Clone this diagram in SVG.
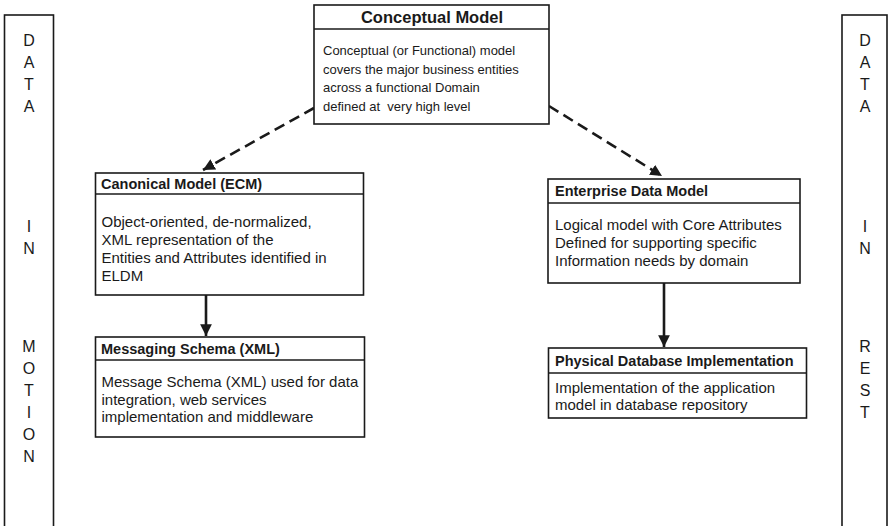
<svg xmlns="http://www.w3.org/2000/svg" width="888" height="526" viewBox="0 0 888 526">
<style>
.box{fill:#fff;stroke:#1a1a1a;stroke-width:1.6}
.sep{stroke:#1a1a1a;stroke-width:1.4}
.hdr{font-family:"Liberation Sans",Arial,sans-serif;font-weight:bold;font-size:14.5px;fill:#1a1a1a}
.ttl{font-family:"Liberation Sans",Arial,sans-serif;font-weight:bold;font-size:16.5px;fill:#1a1a1a}
.body{font-family:"Liberation Sans",Arial,sans-serif;font-size:15px;fill:#1a1a1a}
.small{font-family:"Liberation Sans",Arial,sans-serif;font-size:13px;fill:#1a1a1a}
.vert{font-family:"Liberation Sans",Arial,sans-serif;font-size:16px;fill:#1a1a1a;text-anchor:middle}
.solid{stroke:#1a1a1a;stroke-width:2.6;fill:none}
.dash{stroke:#1a1a1a;stroke-width:2.6;fill:none;stroke-dasharray:11 6}
</style>
<defs>
<marker id="ah" viewBox="0 0 10 10" refX="10" refY="5" markerWidth="4.5" markerHeight="4.5" markerUnits="strokeWidth" orient="auto">
<path d="M0,0 L10,5 L0,10 z" fill="#1a1a1a"/>
</marker>
</defs>
<g id="data-in-motion">
<rect class="box" x="4.5" y="15" width="49" height="512"/>
<text class="vert" x="29" y="46">D</text>
<text class="vert" x="29" y="68">A</text>
<text class="vert" x="29" y="90">T</text>
<text class="vert" x="29" y="112">A</text>
<text class="vert" x="29" y="232">I</text>
<text class="vert" x="29" y="254">N</text>
<text class="vert" x="29" y="352">M</text>
<text class="vert" x="29" y="374">O</text>
<text class="vert" x="29" y="396">T</text>
<text class="vert" x="29" y="418">I</text>
<text class="vert" x="29" y="440">O</text>
<text class="vert" x="29" y="462">N</text>
</g>
<g id="data-in-rest">
<rect class="box" x="842" y="15" width="45" height="512"/>
<text class="vert" x="865" y="46">D</text>
<text class="vert" x="865" y="68">A</text>
<text class="vert" x="865" y="90">T</text>
<text class="vert" x="865" y="112">A</text>
<text class="vert" x="865" y="232">I</text>
<text class="vert" x="865" y="254">N</text>
<text class="vert" x="865" y="352">R</text>
<text class="vert" x="865" y="374">E</text>
<text class="vert" x="865" y="396">S</text>
<text class="vert" x="865" y="418">T</text>
</g>
<g id="connectors">
<line class="dash" x1="314" y1="108" x2="203" y2="170" marker-end="url(#ah)"/>
<line class="dash" x1="549" y1="106" x2="662" y2="176" marker-end="url(#ah)"/>
<line class="solid" x1="206" y1="295" x2="206" y2="336" marker-end="url(#ah)"/>
<line class="solid" x1="664" y1="283" x2="664" y2="347" marker-end="url(#ah)"/>
</g>
<g id="conceptual-model">
<rect class="box" x="314" y="5" width="235" height="119"/>
<line class="sep" x1="314" y1="29" x2="549" y2="29"/>
<text class="ttl" x="432" y="23" text-anchor="middle">Conceptual Model</text>
<text class="small" x="323" y="55">Conceptual (or Functional) model</text>
<text class="small" x="323" y="73.5">covers the major business entities</text>
<text class="small" x="323" y="92">across a functional Domain</text>
<text class="small" x="323" y="110.5">defined at&#160; very high level</text>
</g>
<g id="canonical-model">
<rect class="box" x="95.5" y="173" width="268" height="122"/>
<line class="sep" x1="95.5" y1="194" x2="363.5" y2="194"/>
<text class="hdr" x="101" y="189">Canonical Model (ECM)</text>
<text class="body" x="101.5" y="227">Object-oriented, de-normalized,</text>
<text class="body" x="101.5" y="245">XML representation of the</text>
<text class="body" x="101.5" y="263">Entities and Attributes identified in</text>
<text class="body" x="101.5" y="281">ELDM</text>
</g>
<g id="messaging-schema">
<rect class="box" x="95.5" y="337" width="269" height="100"/>
<line class="sep" x1="95.5" y1="360" x2="364.5" y2="360"/>
<text class="hdr" x="101" y="354">Messaging Schema (XML)</text>
<text class="body" x="101.5" y="387">Message Schema (XML) used for data</text>
<text class="body" x="101.5" y="405">integration, web services</text>
<text class="body" x="101.5" y="422">implementation and middleware</text>
</g>
<g id="enterprise-data-model">
<rect class="box" x="548" y="179" width="252" height="104"/>
<line class="sep" x1="548" y1="203" x2="800" y2="203"/>
<text class="hdr" x="555" y="196">Enterprise Data Model</text>
<text class="body" x="555" y="230">Logical model with Core Attributes</text>
<text class="body" x="555" y="248">Defined for supporting specific</text>
<text class="body" x="555" y="266">Information needs by domain</text>
</g>
<g id="physical-database">
<rect class="box" x="548.5" y="348" width="258" height="70"/>
<line class="sep" x1="548.5" y1="373" x2="806.5" y2="373"/>
<text class="hdr" x="555" y="366">Physical Database Implementation</text>
<text class="body" x="555" y="393">Implementation of the application</text>
<text class="body" x="555" y="410">model in database repository</text>
</g>
</svg>
